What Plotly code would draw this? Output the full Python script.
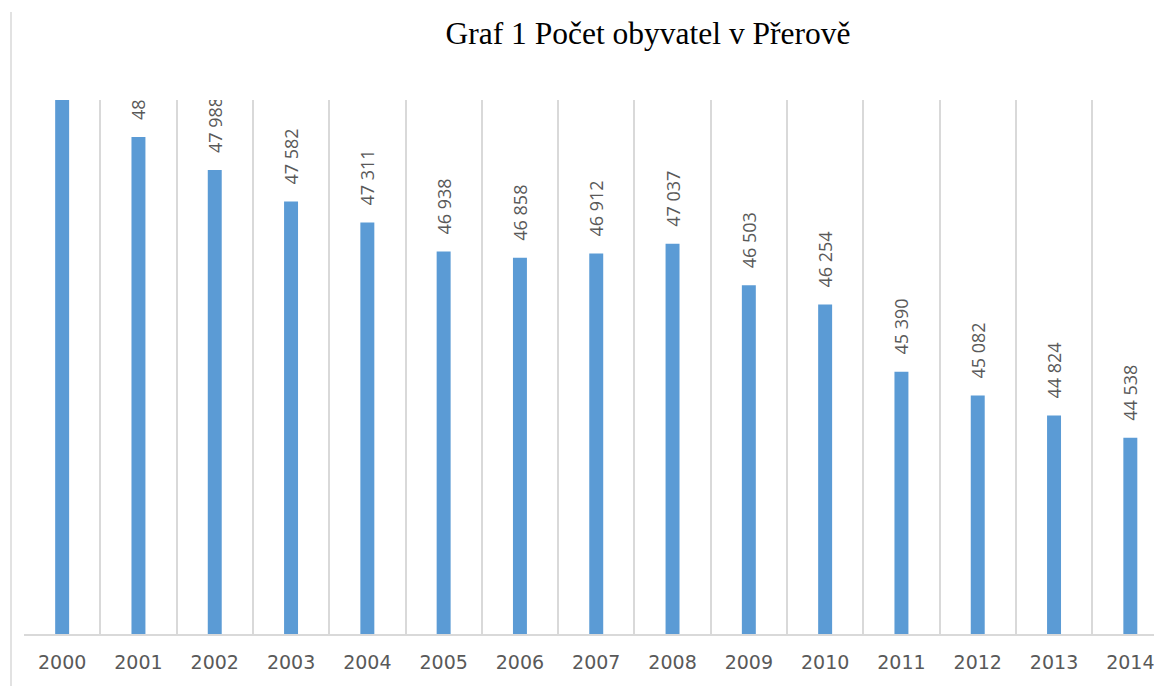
import plotly.graph_objects as go

years = [2000, 2001, 2002, 2003, 2004, 2005, 2006, 2007, 2008, 2009, 2010, 2011, 2012, 2013, 2014]
population = [49050, 48413, 47988, 47582, 47311, 46938, 46858, 46912, 47037, 46503, 46254, 45390, 45082, 44824, 44538]
year_labels = [str(y) for y in years]
title_text = "Graf 1 Počet obyvatel v Přerově"

GRID = "#d9d9d9"
TEXT = "#595959"

# page body has an 8px margin, so the figure is offset by 8px
W, H = 1154, 678
L, T, B = 16, 92, 52
PW, PH = W - L, H - T - B

fig = go.Figure(
    go.Bar(
        x=years,
        y=population,
        width=0.183,
        marker=dict(color="#5b9bd5", line=dict(width=0)),
        texttemplate="\u00a0\u00a0\u00a0%{y:,}",
        textposition="outside",
        textangle=-90,
        constraintext="none",
        cliponaxis=True,
        textfont=dict(family="Open Sans", size=18, color=TEXT),
        hoverinfo="skip",
    )
)

fig.update_layout(
    width=W,
    height=H,
    margin=dict(l=L, r=0, t=T, b=B, pad=0),
    paper_bgcolor="white",
    plot_bgcolor="white",
    separators=", ",
    showlegend=False,
    title=dict(
        text=title_text,
        x=640 / W,
        xanchor="center",
        xref="container",
        y=1 - 25 / H,
        yanchor="middle",
        yref="container",
        font=dict(family="Liberation Serif", size=31.5, color="black"),
    ),
    xaxis=dict(
        range=[1999.5, 2014.415],
        tickmode="array",
        tickvals=years,
        ticktext=year_labels,
        showgrid=False,
        zeroline=False,
        showline=True,
        linecolor=GRID,
        linewidth=1.5,
        ticks="",
        ticklabelstandoff=10,
        tickfont=dict(family="DejaVu Sans", size=19, color=TEXT),
        minor=dict(tickmode="linear", tick0=1999.5, dtick=1, showgrid=True, gridcolor=GRID, gridwidth=1.5, ticks=""),
    ),
    yaxis=dict(
        range=[42010, 48890],
        visible=False,
        showgrid=False,
        zeroline=False,
    ),
    shapes=[
        dict(type="line", xref="paper", yref="paper", x0=(3 - L) / PW, x1=(3 - L) / PW,
             y0=(T + PH - 4) / PH, y1=-0.2, line=dict(color=GRID, width=1.5)),
    ],
)

fig.write_html("out.html")
